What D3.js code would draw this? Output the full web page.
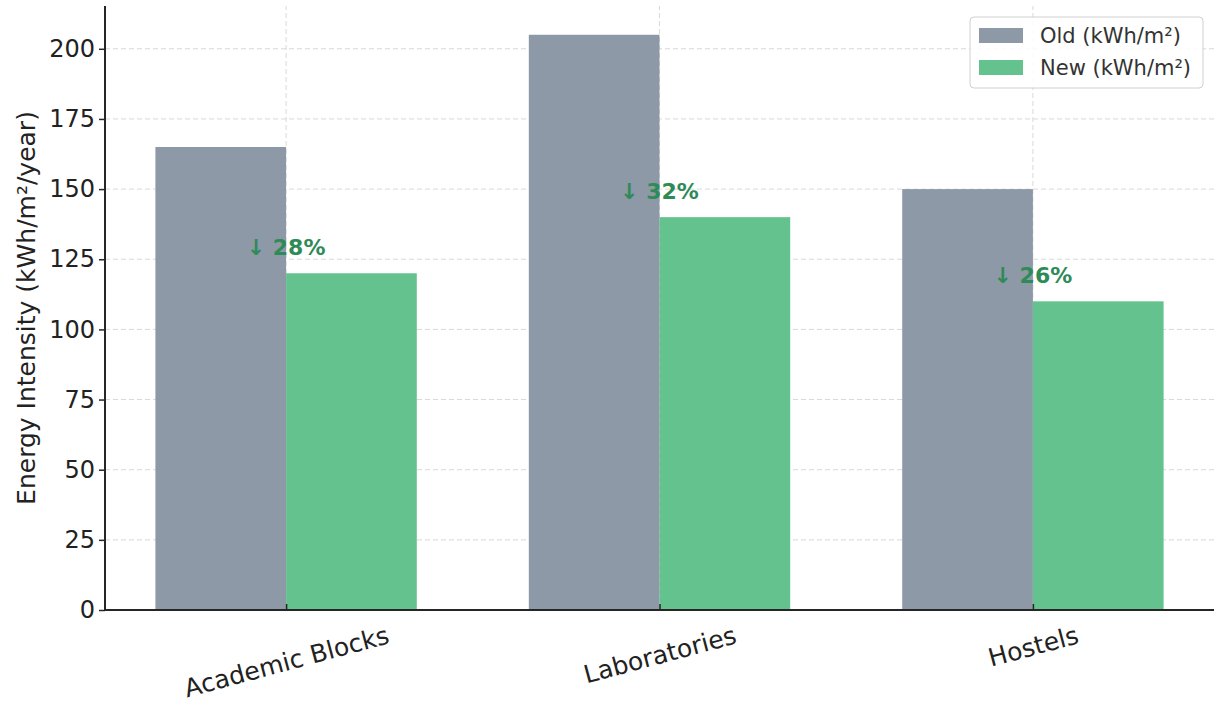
<!DOCTYPE html>
<html>
<head>
<meta charset="utf-8">
<script src="https://cdn.jsdelivr.net/npm/d3@7"></script>
<style>
  html, body { margin: 0; padding: 0; background: #fff; }
  svg { display: block; font-family: "DejaVu Sans", sans-serif; }
</style>
</head>
<body>
<svg id="chart" width="1218" height="706"></svg>
<script>
// Building categories and energy intensity (kWh/m²/year)
const categories = ["Academic Blocks", "Laboratories", "Hostels"];
const oldValues = [165, 205, 150];
const newValues = [120, 140, 110];
const reductionLabels = ["↓ 28%", "↓ 32%", "↓ 26%"];
const yTicks = [0, 25, 50, 75, 100, 125, 150, 175, 200];
const seriesNames = ["Old (kWh/m²)", "New (kWh/m²)"];

const W = 1218, H = 706;
const margin = { left: 105, right: 4, top: 6, bottom: 96 };
const svg = d3.select("#chart");

const colors = { old: "#8d99a6", new: "#63c28d", note: "#2e8b57", axis: "#262626", grid: "#d9d9d9" };

const barW = 0.35;
const x = d3.scaleLinear()
  .domain([-0.485, categories.length - 1 + 0.485])
  .range([margin.left, W - margin.right]);
const y = d3.scaleLinear()
  .domain([0, 215.25])
  .range([H - margin.bottom, margin.top]);

const plot = svg.append("g");

// Dashed grid
plot.append("g").selectAll("line.gy").data(yTicks).join("line")
  .attr("x1", x.range()[0]).attr("x2", x.range()[1])
  .attr("y1", d => y(d)).attr("y2", d => y(d))
  .attr("stroke", colors.grid).attr("stroke-width", 1).attr("stroke-dasharray", "5,3");
plot.append("g").selectAll("line.gx").data(categories).join("line")
  .attr("x1", (d, i) => x(i)).attr("x2", (d, i) => x(i))
  .attr("y1", y.range()[0]).attr("y2", y.range()[1])
  .attr("stroke", colors.grid).attr("stroke-width", 1).attr("stroke-dasharray", "5,3");

// Bars
plot.append("g").selectAll("rect.old").data(oldValues).join("rect")
  .attr("x", (d, i) => x(i - barW))
  .attr("width", x(barW) - x(0))
  .attr("y", d => y(d))
  .attr("height", d => y(0) - y(d))
  .attr("fill", colors.old);
plot.append("g").selectAll("rect.new").data(newValues).join("rect")
  .attr("x", (d, i) => x(i))
  .attr("width", x(barW) - x(0))
  .attr("y", d => y(d))
  .attr("height", d => y(0) - y(d))
  .attr("fill", colors.new);

// Reduction annotations above the new bars
plot.append("g").selectAll("text.note").data(reductionLabels).join("text")
  .attr("x", (d, i) => x(i))
  .attr("y", (d, i) => y(newValues[i] + 5) - 4)
  .attr("text-anchor", "middle")
  .attr("font-size", 22)
  .attr("font-weight", "bold")
  .attr("fill", colors.note)
  .text(d => d);

// Y axis
const yAxis = d3.axisLeft(y).tickValues(yTicks).tickSize(6).tickPadding(4);
const gy = svg.append("g").attr("transform", `translate(${margin.left},0)`).call(yAxis);
gy.select(".domain").attr("stroke", colors.axis).attr("stroke-width", 2)
  .attr("d", `M0,${y.range()[0]}V${y.range()[1]}`);
gy.selectAll(".tick line").attr("stroke", colors.axis).attr("stroke-width", 1.5);
gy.selectAll(".tick text").attr("font-size", 24).attr("fill", "#222")
  .attr("font-family", "DejaVu Sans");

// X axis
const xAxis = d3.axisBottom(x).tickValues(d3.range(categories.length))
  .tickFormat(i => categories[i]).tickSize(-6).tickPadding(0);
const gx = svg.append("g").attr("transform", `translate(0,${y(0)})`).call(xAxis);
gx.select(".domain").attr("stroke", colors.axis).attr("stroke-width", 2)
  .attr("d", `M${x.range()[0]},0H${x.range()[1]}`);
gx.selectAll(".tick line").attr("stroke", colors.axis).attr("stroke-width", 1.5);
const rot = 15 * Math.PI / 180;
const xFont = 25;
gx.selectAll(".tick text")
  .attr("font-size", xFont).attr("fill", "#222").attr("font-family", "DejaVu Sans")
  .attr("text-anchor", "middle").attr("dy", null)
  .attr("y", 0).attr("dominant-baseline", "central")
  .attr("transform", function () {
    // rotated label box hangs with its top edge a fixed gap below the axis
    const len = this.getComputedTextLength();
    const boxH = len * Math.sin(rot) + xFont * 1.05 * Math.cos(rot);
    return `translate(0,${12 + boxH / 2}) rotate(-15)`;
  });

// Y axis title
svg.append("text")
  .attr("transform", `translate(26,${(y.range()[0] + y.range()[1]) / 2}) rotate(-90)`)
  .attr("text-anchor", "middle")
  .attr("dominant-baseline", "central")
  .attr("font-size", 25)
  .attr("fill", "#222")
  .text("Energy Intensity (kWh/m²/year)");

// Chart title (sits above the visible frame)
svg.append("text")
  .attr("x", 680).attr("y", -6)
  .attr("text-anchor", "middle")
  .attr("font-size", 24).attr("font-weight", "bold")
  .attr("fill", "#222")
  .text("Energy Intensity Comparison: Old vs New Buildings");

// Legend
const lg = svg.append("g").attr("transform", "translate(970,17)");
lg.append("rect").attr("width", 233).attr("height", 71).attr("rx", 4)
  .attr("fill", "#fff").attr("fill-opacity", 0.85)
  .attr("stroke", "#d0d0d0").attr("stroke-width", 1);
const legendColors = [colors.old, colors.new];
seriesNames.forEach((name, i) => {
  const row = lg.append("g").attr("transform", `translate(9,${11 + i * 32})`);
  row.append("rect").attr("width", 44).attr("height", 15).attr("fill", legendColors[i]);
  row.append("text").attr("x", 61).attr("y", 8).attr("dominant-baseline", "central")
    .attr("font-size", 21).attr("fill", "#333").text(name);
});
</script>
</body>
</html>
